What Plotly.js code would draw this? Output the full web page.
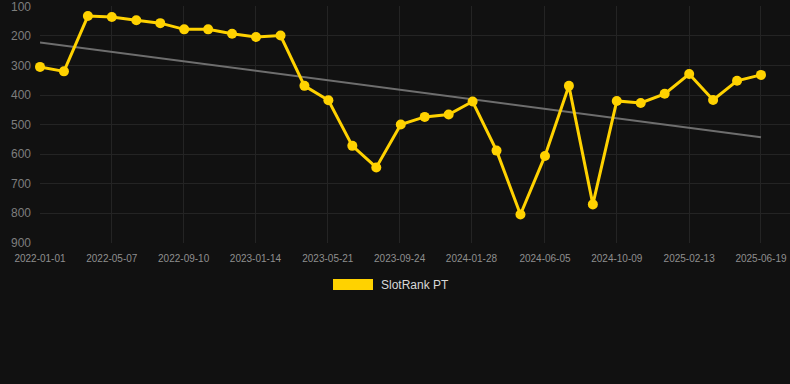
<!DOCTYPE html>
<html>
<head>
<meta charset="utf-8">
<script src="https://cdn.plot.ly/plotly-3.0.1.min.js"></script>
<style>
html,body{margin:0;padding:0;background:#111111;}
#chart{width:790px;height:384px;}
</style>
</head>
<body>
<div id="chart"></div>
<script>
var dates = ['2022-01-01','2022-02-12','2022-03-26','2022-05-07','2022-06-19','2022-07-31','2022-09-11','2022-10-23','2022-12-04','2023-01-15','2023-02-27','2023-04-10','2023-05-22','2023-07-03','2023-08-14','2023-09-26','2023-11-07','2023-12-19','2024-01-30','2024-03-12','2024-04-23','2024-06-05','2024-07-17','2024-08-28','2024-10-09','2024-11-20','2025-01-01','2025-02-13','2025-03-27','2025-05-08','2025-06-19'];
var ranks = [305,320,133,136,147,157,178,178,193,204,199,369,418,572,645,500,474,466,422,588,804,606,369,770,420,427,396,329,417,352,332];
var trendDates = ['2022-01-01','2025-06-19'];
var trendValues = [222,543];
var tickDates = ['2022-01-01','2022-05-07','2022-09-10','2023-01-14','2023-05-21','2023-09-24','2024-01-28','2024-06-05','2024-10-09','2025-02-13','2025-06-19'];
var yTicks = [100,200,300,400,500,600,700,800,900];
var seriesName = 'SlotRank PT';

var traces = [
  {x: trendDates, y: trendValues, type: 'scatter', mode: 'lines',
   line: {color: '#6e6e6e', width: 2}, hoverinfo: 'skip', showlegend: false,
   cliponaxis: false},
  {x: dates, y: ranks, type: 'scatter', mode: 'lines+markers', name: seriesName,
   line: {color: '#FFD200', width: 3}, marker: {color: '#FFD200', size: 10},
   showlegend: false, cliponaxis: false}
];

var layout = {
  width: 790, height: 384,
  paper_bgcolor: '#111111', plot_bgcolor: '#111111',
  margin: {l: 40, r: 0, t: 6, b: 141},
  font: {family: 'Liberation Sans, Arial, sans-serif', color: '#8a8a8a'},
  showlegend: false,
  xaxis: {
    type: 'date', range: ['2022-01-01', '2025-08-08T22:00'],
    tickvals: tickDates, ticktext: tickDates,
    showgrid: true, gridcolor: '#242424', gridwidth: 1,
    zeroline: false, showline: false, ticks: '',
    tickfont: {size: 10, color: '#8f8f8f'}, ticklabelstandoff: 8,
    ticklabeloverflow: 'allow'
  },
  yaxis: {
    range: [900.5, 99], tickvals: yTicks,
    showgrid: true, gridcolor: '#242424', gridwidth: 1,
    zeroline: false, showline: false, ticks: '',
    tickfont: {size: 12, color: '#7e7e7e'}, ticklabelstandoff: 8,
    ticklabeloverflow: 'allow'
  },
  shapes: [
    {type: 'rect', xref: 'paper', yref: 'paper',
     x0: (333-40)/750, x1: (373-40)/750,
     y0: (243-290)/237, y1: (243-279)/237,
     fillcolor: '#FFD200', line: {width: 0}}
  ],
  annotations: [
    {xref: 'paper', yref: 'paper', x: (379-40)/750, y: (243-284.5)/237,
     xanchor: 'left', yanchor: 'middle', text: seriesName, showarrow: false,
     font: {size: 12, color: '#d8d8d8'}}
  ]
};

Plotly.newPlot('chart', traces, layout, {displayModeBar: false, staticPlot: true});
</script>
</body>
</html>
